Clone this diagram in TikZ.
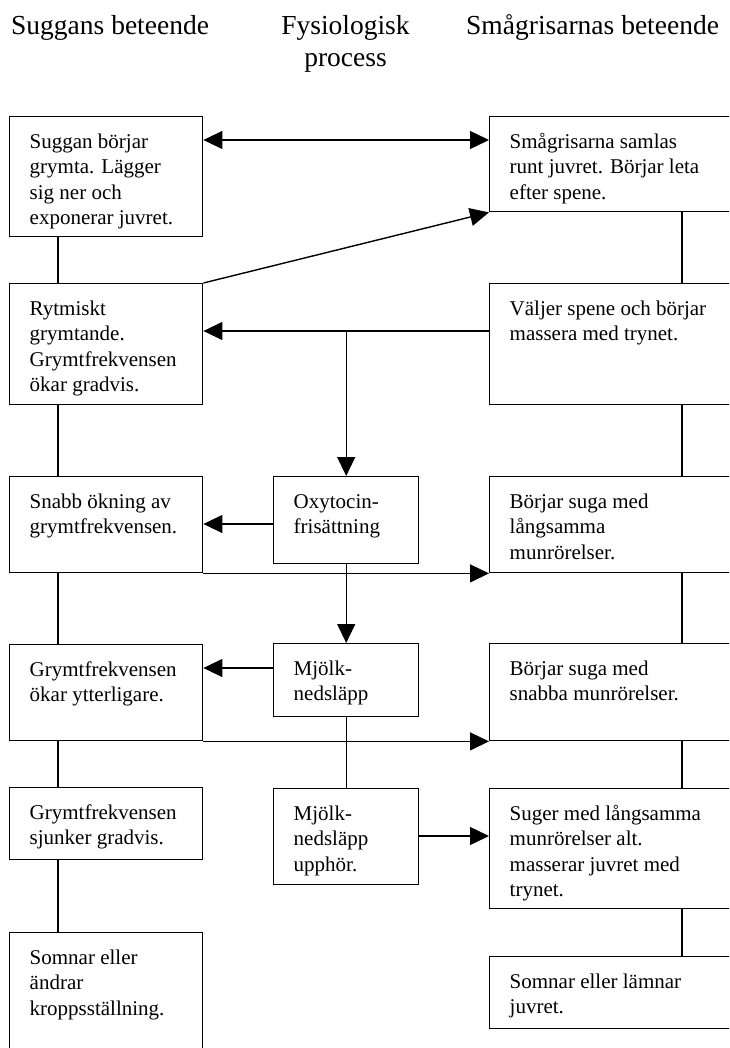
\documentclass[tikz,border=0pt]{standalone}
\usepackage{fontspec}
\setmainfont{Liberation Serif}
\usetikzlibrary{arrows.meta,positioning,calc}
\newcommand{\cell}[3]{\parbox[t][#2][t]{#1}{\raggedright\strut #3}}

\begin{document}
\begin{tikzpicture}[x=1pt, y=-1pt,
    box/.style={draw, line width=1.4pt, anchor=north west, inner xsep=20pt, inner ysep=14pt,
                font=\fontsize{21}{25.3}\selectfont},
    head/.style={font=\fontsize{27.5}{32.4}\selectfont, inner sep=0pt},
    conn/.style={line width=1.4pt},
    arr/.style={conn, -{Triangle[length=19pt,width=18pt]}},
    dblarr/.style={conn, {Triangle[length=19pt,width=18pt]}-{Triangle[length=19pt,width=18pt]}}]
    \useasboundingbox (0,0) rectangle (729,1048);
    \clip (0,0) rectangle (729,1048);

    % Column headings
    \node[head, anchor=base west] (hsow) at (11,35) {Suggans beteende};
    \node[head, anchor=base, align=center] (hphys) at (345.5,67) {Fysiologisk\\process};
    \node[head, anchor=base west] (hpig) at (466,35) {Smågrisarnas beteende};

    % Sow
    \node[box] (s1) at (9,116) {\cell{153pt}{92pt}{Suggan börjar\\grymta. Lägger\\sig ner och\\exponerar juvret.}};
    \node[box] (s2) at (9,283) {\cell{153pt}{93pt}{Rytmiskt\\grymtande.\\Grymtfrekvensen\\ökar gradvis.}};
    \node[box] (s3) at (9,476) {\cell{153pt}{68pt}{Snabb ökning av\\grymtfrekvensen.}};
    \node[box] (s4) at (9,644) {\cell{153pt}{68pt}{Grymtfrekvensen\\ökar ytterligare.}};
    \node[box] (s5) at (9,787) {\cell{153pt}{44pt}{Grymtfrekvensen\\sjunker gradvis.}};
    \node[box] (s6) at (9,932) {\cell{153pt}{97pt}{Somnar eller\\ändrar\\kroppsställning.}};

    % Physiology
    \node[box] (p1) at (273,476) {\cell{105pt}{59pt}{Oxytocin-\\frisättning}};
    \node[box] (p2) at (273,643) {\cell{105pt}{45pt}{Mjölk-\\nedsläpp}};
    \node[box] (p3) at (273,788) {\cell{105pt}{68pt}{Mjölk-\\nedsläpp\\upphör.}};

    % Piglets
    \node[box] (g1) at (489,116) {\cell{204pt}{67pt}{Smågrisarna samlas\\runt juvret. Börjar leta\\efter spene.}};
    \node[box] (g2) at (489,283) {\cell{204pt}{93pt}{Väljer spene och börjar\\massera med trynet.}};
    \node[box] (g3) at (489,476) {\cell{204pt}{68pt}{Börjar suga med\\långsamma\\munrörelser.}};
    \node[box] (g4) at (489,643) {\cell{204pt}{69pt}{Börjar suga med\\snabba munrörelser.}};
    \node[box] (g5) at (489,788) {\cell{204pt}{92pt}{Suger med långsamma\\munrörelser alt.\\masserar juvret med\\trynet.}};
    \node[box] (g6) at (489,956) {\cell{204pt}{44pt}{Somnar eller lämnar\\juvret.}};

    % Column links
    \foreach \a/\b in {s1/s2,s2/s3,s3/s4,s4/s5,s5/s6}
        \draw[conn] ([xshift=49pt]\a.south west) -- ([xshift=49pt]\b.north west);
    \foreach \a/\b in {g1/g2,g2/g3,g3/g4,g4/g5,g5/g6}
        \draw[conn] ([xshift=193pt]\a.south west) -- ([xshift=193pt]\b.north west);

    % Cross links
    \draw[dblarr] ([yshift=-24pt]s1.north east) -- ([yshift=-24pt]g1.north west);
    \draw[arr] (s2.north east) -- (g1.south west);
    \coordinate (split) at ([yshift=-48pt]g2.north west);
    \draw[arr] (split) -- ([yshift=-48pt]s2.north east);
    \draw[arr] (p1.north |- split) -- (p1.north);
    \draw[arr] ([yshift=-48pt]p1.north west) -- ([yshift=-48pt]s3.north east);
    \draw[arr] (s3.south east) -- (g3.south west);
    \draw[arr] (p1.south) -- (p2.north);
    \draw[arr] ([yshift=-25pt]p2.north west) -- ([yshift=-24pt]s4.north east);
    \draw[arr] (s4.south east) -- (g4.south west);
    \draw[conn] (p2.south) -- (p3.north);
    \draw[arr] ([yshift=-48pt]p3.north east) -- ([yshift=-48pt]g5.north west);
\end{tikzpicture}
\end{document}
